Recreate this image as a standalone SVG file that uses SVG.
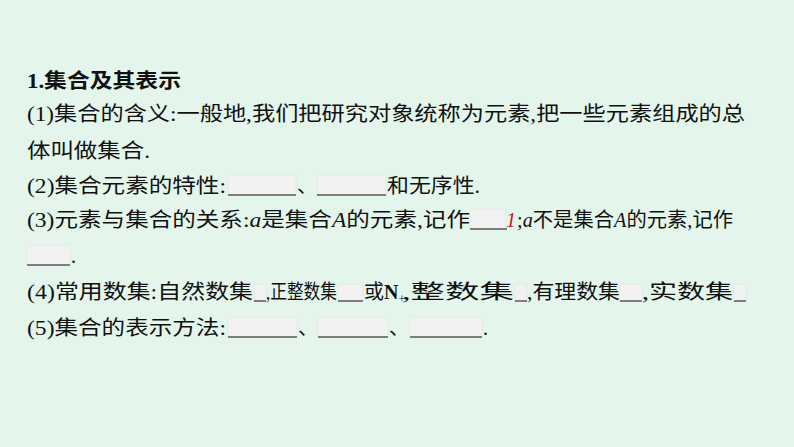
<svg xmlns="http://www.w3.org/2000/svg" width="794" height="447" viewBox="0 0 794 447">
<style>
text{font-family:"Liberation Serif","Noto Sans CJK SC",serif;font-size:20px;fill:#111}
.b{font-weight:bold}
.bx{fill:#f2f2f2;stroke:#ddd;stroke-width:0.5}
.ul{stroke:#111;stroke-width:1}
</style>
<rect width="794" height="447" fill="#e4f6ec"/>
<g id="title"><text x="27" y="88" class="b" textLength="154" lengthAdjust="spacingAndGlyphs">1.集合及其表示</text></g>
<g id="l1"><text x="27" y="121" textLength="718" lengthAdjust="spacingAndGlyphs">(1)集合的含义:一般地,我们把研究对象统称为元素,把一些元素组成的总</text>
<text x="27" y="158" textLength="123" lengthAdjust="spacingAndGlyphs">体叫做集合.</text></g>
<g id="l2"><text x="27" y="193" textLength="199" lengthAdjust="spacingAndGlyphs">(2)集合元素的特性:</text>
<rect class="bx" x="228" y="175" width="68" height="20"/><line class="ul" x1="228" y1="195" x2="296" y2="195"/>
<text x="297" y="193">、</text>
<rect class="bx" x="317" y="175" width="69" height="20"/><line class="ul" x1="317" y1="195" x2="386" y2="195"/>
<text x="387" y="193" textLength="93" lengthAdjust="spacingAndGlyphs">和无序性.</text></g>
<g id="l3"><text x="27" y="227" textLength="443" lengthAdjust="spacingAndGlyphs">(3)元素与集合的关系:<tspan font-style="italic">a</tspan>是集合<tspan font-style="italic">A</tspan>的元素,记作</text>
<rect class="bx" x="470" y="209" width="36" height="20"/><line class="ul" x1="470" y1="229" x2="507" y2="229"/>
<text x="506" y="227" style="fill:#d0102a" font-style="italic">1</text>
<text x="517" y="227" textLength="216" lengthAdjust="spacingAndGlyphs">;<tspan font-style="italic">a</tspan>不是集合<tspan font-style="italic">A</tspan>的元素,记作</text>
<rect class="bx" x="27" y="245" width="43" height="20"/><line class="ul" x1="27" y1="265" x2="70" y2="265"/>
<text x="71" y="263">.</text></g>
<g id="l4"><text x="27" y="299" textLength="226" lengthAdjust="spacingAndGlyphs">(4)常用数集:自然数集</text>
<rect class="bx" x="254" y="284" width="12" height="17"/><line class="ul" x1="254" y1="301" x2="266" y2="301"/>
<text x="266" y="299" textLength="71" lengthAdjust="spacingAndGlyphs">,正整数集</text>
<rect class="bx" x="338" y="284" width="25" height="17"/><line class="ul" x1="338" y1="301" x2="363" y2="301"/>
<text x="364" y="299">或<tspan class="b">N</tspan><tspan font-size="12" dy="4">+</tspan></text>
<text x="402" y="299" textLength="112" lengthAdjust="spacingAndGlyphs">,整数集</text>
<rect class="bx" x="515" y="284" width="12" height="17"/><line class="ul" x1="515" y1="301" x2="527" y2="301"/>
<text x="527" y="299" textLength="93" lengthAdjust="spacingAndGlyphs">,有理数集</text>
<rect class="bx" x="620" y="284" width="22" height="17"/><line class="ul" x1="620" y1="301" x2="642" y2="301"/>
<text x="642" y="299" textLength="91" lengthAdjust="spacingAndGlyphs">,实数集</text>
<rect class="bx" x="734" y="284" width="12" height="17"/><line class="ul" x1="734" y1="301" x2="746" y2="301"/></g>
<g id="l5"><text x="27" y="335" textLength="199" lengthAdjust="spacingAndGlyphs">(5)集合的表示方法:</text>
<rect class="bx" x="228" y="317" width="69" height="20"/><line class="ul" x1="228" y1="337" x2="297" y2="337"/>
<text x="298" y="335">、</text>
<rect class="bx" x="318" y="317" width="70" height="20"/><line class="ul" x1="318" y1="337" x2="388" y2="337"/>
<text x="389" y="335">、</text>
<rect class="bx" x="410" y="317" width="72" height="20"/><line class="ul" x1="410" y1="337" x2="482" y2="337"/>
<text x="483" y="335">.</text></g>
</svg>
